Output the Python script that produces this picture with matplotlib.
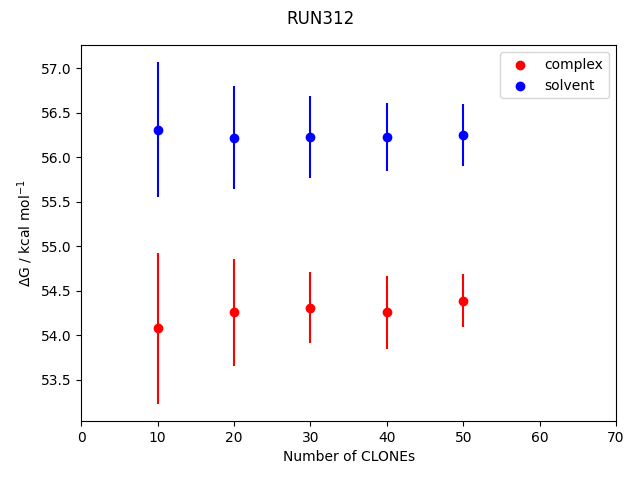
import matplotlib
matplotlib.use("Agg")
import matplotlib.pyplot as plt

# data
clones = [10, 20, 30, 40, 50]
complex_dg = [54.08, 54.26, 54.31, 54.26, 54.39]
complex_err = [0.85, 0.60, 0.40, 0.41, 0.30]
solvent_dg = [56.31, 56.22, 56.23, 56.23, 56.25]
solvent_err = [0.76, 0.58, 0.46, 0.38, 0.35]

fig, ax = plt.subplots(figsize=(6.4, 4.8), dpi=100)
fig.suptitle("RUN312")

ax.errorbar(clones, complex_dg, yerr=complex_err, fmt="none", ecolor="red")
ax.scatter(clones, complex_dg, color="red", label="complex", zorder=3)
ax.errorbar(clones, solvent_dg, yerr=solvent_err, fmt="none", ecolor="blue")
ax.scatter(clones, solvent_dg, color="blue", label="solvent", zorder=3)

ax.set_xlim(0, 70)
ax.set_xlabel("Number of CLONEs")
ax.set_ylabel(r"$\Delta$G / kcal mol$^{-1}$")
ax.legend(loc="upper right")

fig.subplots_adjust(left=0.127, right=0.9625, top=0.906, bottom=0.123)
fig.savefig("out.png")
